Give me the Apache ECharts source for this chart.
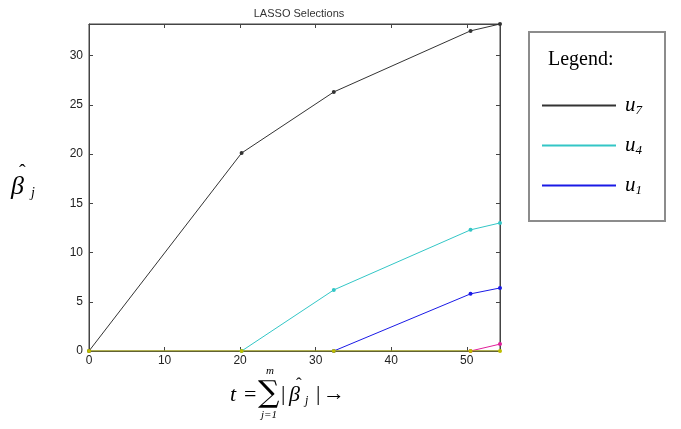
<!DOCTYPE html>
<html>
<head>
<meta charset="utf-8">
<script src="https://cdn.jsdelivr.net/npm/echarts@6/dist/echarts.min.js"></script>
<style>
  html, body { margin: 0; padding: 0; background: #fff; }
  #chart { width: 681px; height: 429px; }
</style>
</head>
<body>
<div id="chart"></div>
<script>
  // breakpoints along t (sum of |beta|)
  var tSteps = [0, 20.2, 32.4, 50.5, 54.4];
  // coefficient paths, null before a variable enters
  var u7 = [0, 20.1, 26.3, 32.5, 33.2];
  var u4 = [null, 0, 6.2, 12.3, 13.0];
  var u1 = [null, null, 0, 5.8, 6.4];
  var u5 = [null, null, null, 0, 0.7];
  var rest = [0, 0, 0, 0, 0];

  var xTicks = [0, 10, 20, 30, 40, 50];
  var yTicks = [0, 5, 10, 15, 20, 25, 30];

  function pairs(vals) {
    var out = [];
    for (var i = 0; i < vals.length; i++) {
      if (vals[i] !== null) out.push([tSteps[i], vals[i]]);
    }
    return out;
  }

  function mkSeries(name, vals, color, z) {
    return {
      name: name,
      type: 'line',
      data: pairs(vals),
      symbol: 'circle',
      symbolSize: 4,
      showSymbol: true,
      z: z,
      lineStyle: { color: color, width: 1 },
      itemStyle: { color: color },
      emphasis: { disabled: true },
      animation: false
    };
  }

  // inward ticks (matlab style box)
  var tick = { show: true, inside: true, length: 4, lineStyle: { color: '#444' } };
  var line = { show: true, onZero: false, lineStyle: { color: '#444' } };

  var chart = echarts.init(document.getElementById('chart'));
  var uRich = {
    u: { fontFamily: 'Liberation Serif', fontStyle: 'italic', fontSize: 21, color: '#000' },
    s: { fontFamily: 'Liberation Serif', fontStyle: 'italic', fontSize: 13, color: '#000', verticalAlign: 'bottom', padding: [10, 0, 0, 0] }
  };

  var option = {
    backgroundColor: '#fff',
    title: {
      text: 'LASSO Selections',
      left: 294, top: 3, textAlign: 'center',
      textStyle: { fontFamily: 'Liberation Sans', fontSize: 11, fontWeight: 'normal', color: '#333' }
    },
    grid: { left: 89, right: 181, top: 24, bottom: 78, show: true, borderColor: '#444', borderWidth: 1 },
    legend: {
      data: ['u7', 'u4', 'u1'],
      orient: 'vertical',
      left: 537, top: 90,
      itemWidth: 74, itemHeight: 2, itemGap: 18,
      icon: 'rect',
      formatter: function (n) { return '{u|u}{s|' + n.slice(1) + '}'; },
      textStyle: { rich: uRich, padding: [0, 0, 0, 4] }
    },
    xAxis: [{
      type: 'value', min: 0, max: 54.4, interval: 10,
      axisLine: line,
      axisTick: tick,
      axisLabel: { showMaxLabel: false, fontFamily: 'Liberation Sans', fontSize: 12, color: '#222', margin: 4,
        formatter: function (v) { return xTicks.indexOf(v) >= 0 ? String(v) : ''; } },
      splitLine: { show: false }
    }, {
      type: 'value', position: 'top', min: 0, max: 54.4, interval: 10,
      axisLine: line,
      axisTick: tick,
      axisLabel: { show: false }, splitLine: { show: false }
    }],
    yAxis: [{
      type: 'value', min: 0, max: 33.2, interval: 5,
      axisLine: line,
      axisTick: tick,
      axisLabel: { showMaxLabel: false, fontFamily: 'Liberation Sans', fontSize: 12, color: '#222', margin: 6,
        formatter: function (v) { return yTicks.indexOf(v) >= 0 ? String(v) : ''; } },
      splitLine: { show: false }
    }, {
      type: 'value', position: 'right', min: 0, max: 33.2, interval: 5,
      axisLine: line,
      axisTick: tick,
      axisLabel: { show: false }, splitLine: { show: false }
    }],
    series: [
      mkSeries('u7', u7, '#333333', 2),
      mkSeries('u4', u4, '#33C6C6', 3),
      mkSeries('u1', u1, '#1A1AE6', 4),
      mkSeries('u5', u5, '#E0209A', 5),
      mkSeries('rest', rest, '#BDBD00', 6)
    ],
    graphic: [
      // legend box
      { type: 'rect', left: 528, top: 31, shape: { width: 136, height: 189 },
        style: { fill: '#fff', stroke: '#8c8c8c', lineWidth: 2 }, z: -1 },
      { type: 'text', left: 548, top: 50,
        style: { text: 'Legend:', font: '20px "Liberation Serif"', fill: '#000' } },
      // y axis name: beta-hat sub j
      { type: 'text', left: 11, top: 174,
        style: { text: '\u03B2', font: 'italic 26px "Liberation Serif"', fill: '#000' } },
      { type: 'text', left: 19, top: 164,
        style: { text: '\u02C6', font: '20px "Liberation Serif"', fill: '#000' } },
      { type: 'text', left: 31, top: 186,
        style: { text: 'j', font: 'italic 14px "Liberation Serif"', fill: '#000' } },
      // x axis name: t = sum_{j=1}^{m} |beta_j| ->
      { type: 'text', left: 230, top: 384,
        style: { text: 't', font: 'italic 22px "Liberation Serif"', fill: '#000' } },
      { type: 'text', left: 244, top: 384,
        style: { text: '=', font: '22px "Liberation Serif"', fill: '#000' } },
      { type: 'text', left: 258, top: 379,
        style: { text: '\u2211', font: '30px "DejaVu Serif"', fill: '#000' } },
      { type: 'text', left: 266, top: 366,
        style: { text: 'm', font: 'italic 11px "Liberation Serif"', fill: '#000' } },
      { type: 'text', left: 261, top: 410,
        style: { text: 'j=1', font: 'italic 11px "Liberation Serif"', fill: '#000' } },
      { type: 'text', left: 281, top: 383,
        style: { text: '|', font: '22px "Liberation Serif"', fill: '#000' } },
      { type: 'text', left: 289, top: 384,
        style: { text: '\u03B2', font: 'italic 22px "Liberation Serif"', fill: '#000' } },
      { type: 'text', left: 296, top: 376,
        style: { text: '\u02C6', font: '17px "Liberation Serif"', fill: '#000' } },
      { type: 'text', left: 305, top: 395,
        style: { text: 'j', font: 'italic 12px "Liberation Serif"', fill: '#000' } },
      { type: 'text', left: 316, top: 383,
        style: { text: '|', font: '22px "Liberation Serif"', fill: '#000' } },
      { type: 'text', left: 323, top: 383,
        style: { text: '\u2192', font: '22px "Liberation Serif"', fill: '#000' } }
    ]
  };
  chart.setOption(option);
</script>
</body>
</html>
